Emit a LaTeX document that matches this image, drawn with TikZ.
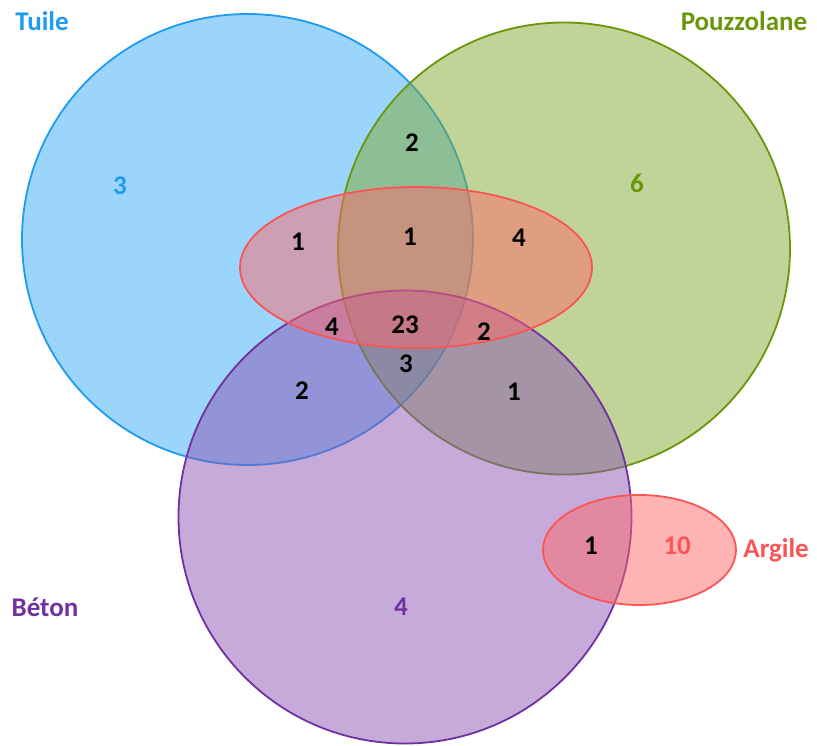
\documentclass[tikz,border=0pt]{standalone}
\usepackage{fontspec}
\setmainfont{Carlito}
\usepackage{tikz}
\usetikzlibrary{positioning, shapes.geometric}
\definecolor{tuileblue}{RGB}{30,155,240}
\definecolor{tuilefill}{RGB}{55,171,249}
\definecolor{pouzgreen}{RGB}{105,150,10}
\definecolor{pouzfill}{RGB}{129,169,49}
\definecolor{betonpurple}{RGB}{112,48,160}
\definecolor{betonfill}{RGB}{139,85,181}
\definecolor{argilered}{RGB}{250,85,85}
\definecolor{argilefill}{RGB}{255,105,105}

\begin{document}
\begin{tikzpicture}[x=1pt, y=-1pt,
    set/.style={circle, inner sep=0pt, line width=1.8pt, fill opacity=0.5, draw opacity=1},
    redset/.style={ellipse, inner sep=0pt, line width=1.8pt, draw=argilered, fill=argilefill, fill opacity=0.5, draw opacity=1},
    num/.style={font=\fontsize{27}{30}\selectfont\bfseries},
    title/.style={font=\fontsize{27}{30}\selectfont\bfseries}]
        \useasboundingbox (0,0) rectangle (817,745);
        % sets
        \node (tuile) [set, draw=tuileblue, fill=tuilefill, minimum size=451pt] at (247.5,239.5) {};
        \node (pouz) [set, draw=pouzgreen, fill=pouzfill, minimum size=452pt] at (564,248.5) {};
        \node (beton) [set, draw=betonpurple, fill=betonfill, minimum size=453pt] at (405,517) {};
        \node (argmid) [redset, minimum width=352pt, minimum height=161pt] at (416,267.5) {};
        \node (argile) [redset, minimum width=193pt, minimum height=110pt] at (639.5,550) {};
        % set names
        \node (ltuile) [title, text=tuileblue] at (42,21) {Tuile};
        \node (lpouz) [title, text=pouzgreen] at (744,21) {Pouzzolane};
        \node (lbeton) [title, text=betonpurple] at (45,607) {Béton};
        \node (largile) [title, text=argilered, right=3pt of argile] {Argile};
        % counts
        \node (ntuile) [num, text=tuileblue] at (120,186) {3};
        \node (npouz) [num, text=pouzgreen] at (637,183) {6};
        \node (nbeton) [num, text=betonpurple] at (401,607) {4};
        \node (nargile) [num, text=argilered] at (677,546) {10};
        \node (ntp) [num] at (412,143) {2};
        \node (nta) [num] at (298,242) {1};
        \node (ntpa) [num] at (410,237) {1};
        \node (npa) [num] at (519,238) {4};
        \node (ntab) [num] at (332,327) {4};
        \node (nall) [num] at (405,325) {23};
        \node (npab) [num] at (484,332) {2};
        \node (ntpb) [num] at (406,364) {3};
        \node (ntb) [num] at (302,391) {2};
        \node (npb) [num] at (514,392) {1};
        \node (nba) [num] at (591,546) {1};
    \end{tikzpicture}
\end{document}
